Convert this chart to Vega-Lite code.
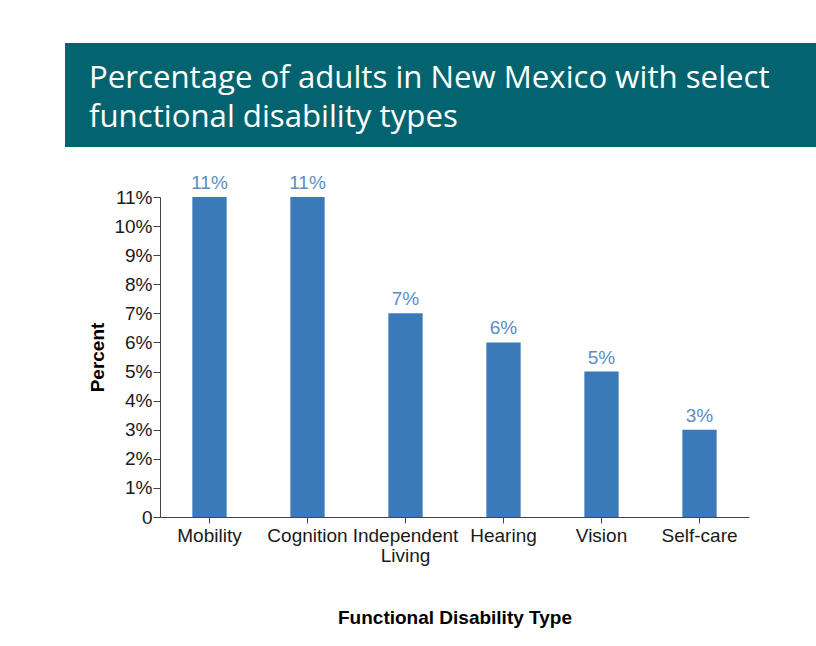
{
  "$schema": "https://vega.github.io/schema/vega-lite/v6.json",
  "background": "#ffffff",
  "padding": {"left": 65, "top": 43, "right": 0, "bottom": 5},
  "spacing": 27,
  "config": {"view": {"stroke": null}, "font": "Liberation Sans"},
  "vconcat": [
    {
      "width": 751,
      "height": 104,
      "view": {"fill": "#03646f", "stroke": null},
      "data": {"values": []},
      "mark": "point",
      "title": {
        "text": ["Percentage of adults in New Mexico with select", "functional disability types"],
        "anchor": "start",
        "frame": "group",
        "orient": "top",
        "baseline": "top",
        "offset": -90,
        "dx": 24,
        "font": "Open Sans",
        "fontSize": 31.2,
        "fontWeight": "normal",
        "color": "#ffffff",
        "lineHeight": 39
      }
    },
    {
      "spacing": 22,
      "hconcat": [
        {
          "width": 1,
          "height": 320,
          "data": {"values": []},
          "mark": "point"
        },
        {
          "width": 589,
          "height": 320,
          "data": {
            "values": [
              {"type": "Mobility", "pct": 11},
              {"type": "Cognition", "pct": 11},
              {"type": "Independent Living", "pct": 7},
              {"type": "Hearing", "pct": 6},
              {"type": "Vision", "pct": 5},
              {"type": "Self-care", "pct": 3}
            ]
          },
          "transform": [{"calculate": "datum.pct + '%'", "as": "label"}],
          "encoding": {
            "x": {
              "field": "type",
              "type": "nominal",
              "sort": null,
              "scale": {"paddingInner": 0.65, "paddingOuter": 0.33},
              "axis": {
                "title": "Functional Disability Type",
                "titleFontSize": 19,
                "titleFontWeight": "bold",
                "titleColor": "#000000",
                "titlePadding": 43,
                "labelAngle": 0,
                "labelFontSize": 19,
                "labelColor": "#1a1a1a",
                "labelPadding": 3,
                "labelLineHeight": 20,
                "labelOverlap": false,
                "labelLimit": 0,
                "labelExpr": "datum.value == 'Independent Living' ? ['Independent', 'Living'] : datum.value",
                "tickSize": 6,
                "tickColor": "#444444",
                "domainColor": "#444444"
              }
            },
            "y": {
              "field": "pct",
              "type": "quantitative",
              "scale": {"domain": [0, 11], "nice": false},
              "axis": {
                "title": "Percent",
                "titleFontSize": 19,
                "titleFontWeight": "bold",
                "titleColor": "#000000",
                "titlePadding": 6,
                "values": [0, 1, 2, 3, 4, 5, 6, 7, 8, 9, 10, 11],
                "labelExpr": "datum.value == 0 ? '0' : datum.value + '%'",
                "labelFontSize": 19,
                "labelColor": "#1a1a1a",
                "labelPadding": 1,
                "tickSize": 7,
                "tickColor": "#444444",
                "domainColor": "#444444",
                "grid": false
              }
            }
          },
          "layer": [
            {"mark": {"type": "bar", "color": "#3a7ab8"}},
            {
              "mark": {"type": "text", "dy": -14, "fontSize": 19, "color": "#5b8dc6"},
              "encoding": {"text": {"field": "label"}}
            }
          ]
        }
      ]
    }
  ]
}
